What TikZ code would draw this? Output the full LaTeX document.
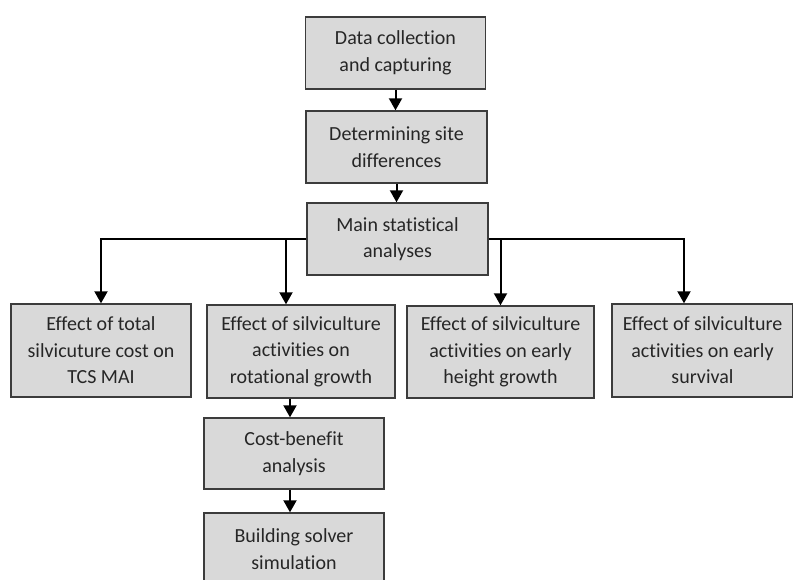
\documentclass[tikz,border=0pt]{standalone}
\usepackage{fontspec}
\setmainfont{Carlito}[RawFeature={-liga;-clig;-calt;-dlig}]
\usetikzlibrary{arrows.meta,calc}
\newcommand{\myti}{t\kern0pt i}
\newcommand{\myfi}{f\kern0pt i}
\definecolor{boxfill}{HTML}{D9D9D9}
\definecolor{boxline}{HTML}{3C3C3C}
\definecolor{txt}{HTML}{262626}
\tikzset{
  stepbox/.style={draw=boxline, line width=1.4pt, fill=boxfill, align=center, text=txt,
    font=\fontsize{20}{26.5}\selectfont, inner sep=0pt, anchor=center},
  arr/.style={line width=2pt, draw=black, -{Triangle[width=13pt,length=12pt]}}
}
\begin{document}
\begin{tikzpicture}[x=1pt,y=-1pt]
\clip (0,0) rectangle (793,579);
\node[stepbox, minimum width=180pt, minimum height=72pt] (b1) at (395.5,53) {Data collection\\and capturing};
\node[stepbox, minimum width=181pt, minimum height=72pt] (b2) at (396.5,147) {Determining site\\differences};
\node[stepbox, minimum width=181pt, minimum height=72pt] (b3) at (397.5,239) {Main sta\myti{}s\myti{}cal\\analyses};
\node[stepbox, minimum width=180pt, minimum height=93pt] (ea) at (101,350.5) {Effect of total\\silvicuture cost on\\TCS MAI};
\node[stepbox, minimum width=188pt, minimum height=93pt] (eb) at (301,351.5) {Effect of silviculture\\ac\myti{}vi\myti{}es on\\rota\myti{}onal growth};
\node[stepbox, minimum width=187pt, minimum height=92pt] (ec) at (500.5,352) {Effect of silviculture\\ac\myti{}vi\myti{}es on early\\height growth};
\node[stepbox, minimum width=181pt, minimum height=93pt] (ed) at (702.5,350.5) {Effect of silviculture\\ac\myti{}vi\myti{}es on early\\survival};
\node[stepbox, minimum width=180pt, minimum height=71pt] (cb) at (294,453.5) {Cost-bene\myfi{}t\\analysis};
\node[stepbox, minimum width=180pt, minimum height=72pt] (bs) at (294,549) {Building solver\\simula\myti{}on};
% connectors
\draw[arr] (b1.south) -- (b1.south |- b2.north);
\draw[arr] (b2.south) -- (b2.south |- b3.north);
\coordinate (ta) at (ea.north);
\coordinate (tb) at ([xshift=-15pt]eb.north);
\coordinate (tc) at (ec.north);
\coordinate (td) at ([xshift=-18.5pt]ed.north);
\draw[arr] (b3.west) -| (ta);
\draw[arr] (b3.east) -| (td);
\draw[arr] (tb |- b3.west) -- (tb);
\draw[arr] (tc |- b3.east) -- (tc);
\coordinate (tcb) at ([xshift=-4pt]cb.north);
\coordinate (tbs) at ([xshift=-4pt]bs.north);
\draw[arr] (tcb |- eb.south) -- (tcb);
\draw[arr] (tbs |- cb.south) -- (tbs);
\end{tikzpicture}
\end{document}
